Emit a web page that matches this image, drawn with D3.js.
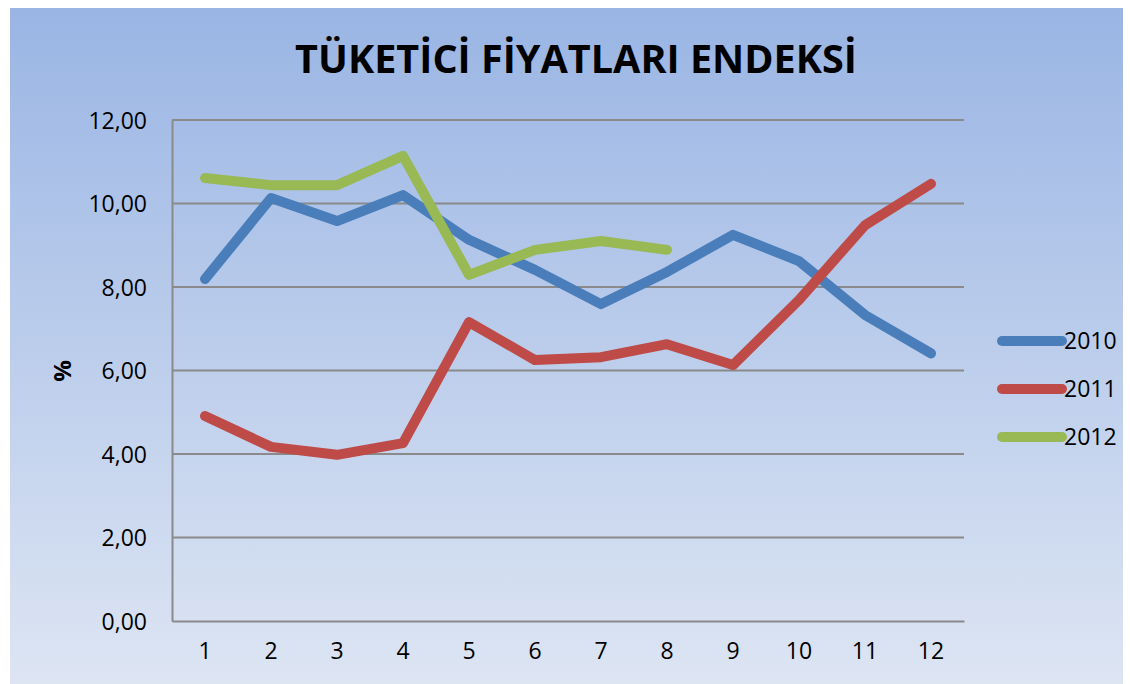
<!DOCTYPE html>
<html>
<head>
<meta charset="utf-8">
<script src="https://cdn.jsdelivr.net/npm/d3@7"></script>
<style>
  body { margin: 0; background: #fff; }
  text { font-family: "Open Sans", "DejaVu Sans", sans-serif; fill: #000; }
</style>
</head>
<body>
<div id="chart"></div>
<script>
// chart data
var months = [1, 2, 3, 4, 5, 6, 7, 8, 9, 10, 11, 12];
var years = ['2010', '2011', '2012'];
var values2010 = [8.19, 10.13, 9.58, 10.20, 9.13, 8.41, 7.59, 8.36, 9.25, 8.62, 7.33, 6.41];
var values2011 = [4.91, 4.17, 3.98, 4.26, 7.16, 6.25, 6.32, 6.63, 6.13, 7.69, 9.48, 10.47];
var values2012 = [10.61, 10.44, 10.44, 11.14, 8.29, 8.89, 9.10, 8.89];
var yTicks = [0, 2, 4, 6, 8, 10, 12];
var colors = ['#4a7ebb', '#be4b48', '#98b954'];
var title = 'TÜKETİCİ FİYATLARI ENDEKSİ';

var series = [values2010, values2011, values2012];

var W = 1130, H = 684;
var plot = {left: 172, top: 120, right: 964, bottom: 621};

var svg = d3.select('#chart').append('svg')
    .attr('width', W)
    .attr('height', H);

// background gradient panel
var grad = svg.append('defs').append('linearGradient')
    .attr('id', 'bg')
    .attr('x1', 0).attr('y1', 0).attr('x2', 0).attr('y2', 1);
grad.append('stop').attr('offset', '0%').attr('stop-color', '#9ab5e4');
grad.append('stop').attr('offset', '100%').attr('stop-color', '#dde5f3');

svg.append('rect')
    .attr('x', 10).attr('y', 8)
    .attr('width', 1113).attr('height', H - 8)
    .style('fill', 'url(#bg)');

// title, scaled to the width it has in the picture
var t = svg.append('text')
    .attr('x', 576).attr('y', 73)
    .attr('text-anchor', 'middle')
    .style('font-weight', 'bold')
    .style('font-size', '42px')
    .text(title);
var tw = t.node().getComputedTextLength();
t.style('font-size', (42 * 562 / tw) + 'px');

// scales
var x = d3.scaleBand()
    .domain(months)
    .range([plot.left, plot.right]);

var y = d3.scaleLinear()
    .domain([0, 12])
    .range([plot.bottom, plot.top]);

// gridlines
svg.append('g').selectAll('line')
    .data(yTicks.slice(1))
    .enter().append('line')
    .attr('x1', plot.left).attr('x2', plot.right)
    .attr('y1', function(d) { return y(d); })
    .attr('y2', function(d) { return y(d); })
    .style('stroke', '#8a8a8a')
    .style('stroke-width', 2);

// axes
var yAxis = d3.axisLeft(y)
    .tickValues(yTicks)
    .tickSize(0)
    .tickPadding(25)
    .tickFormat(function(d) { return d3.format('.2f')(d).replace('.', ','); });

var xAxis = d3.axisBottom(x)
    .tickSize(0)
    .tickPadding(21);

var gy = svg.append('g')
    .attr('transform', 'translate(' + plot.left + ',0)')
    .call(yAxis);

var gx = svg.append('g')
    .attr('transform', 'translate(0,' + plot.bottom + ')')
    .call(xAxis);

[gx, gy].forEach(function(g) {
    g.select('.domain').style('stroke', '#8a8a8a').style('stroke-width', 2);
    g.selectAll('text')
        .style('font-size', '23px')
        .style('font-family', '"Open Sans", sans-serif')
        .style('fill', '#000');
});
gy.selectAll('text').attr('dy', '0.35em');
gx.selectAll('text').attr('dy', '0.72em');

// y axis title
svg.append('text')
    .attr('transform', 'translate(71,371) rotate(-90)')
    .attr('text-anchor', 'middle')
    .style('font-weight', 'bold')
    .style('font-size', '24px')
    .text('%');

// lines
var line = d3.line()
    .x(function(d, i) { return x(months[i]) + x.bandwidth() / 2; })
    .y(function(d) { return y(d); });

svg.append('g').selectAll('path')
    .data(series)
    .enter().append('path')
    .attr('d', line)
    .style('fill', 'none')
    .style('stroke', function(d, i) { return colors[i]; })
    .style('stroke-width', 10)
    .style('stroke-linecap', 'round')
    .style('stroke-linejoin', 'round');

// legend
var legend = svg.append('g').selectAll('g')
    .data(years)
    .enter().append('g')
    .attr('transform', function(d, i) { return 'translate(1002,' + (341 + i * 48) + ')'; });

legend.append('line')
    .attr('x1', 0).attr('x2', 60)
    .style('stroke', function(d, i) { return colors[i]; })
    .style('stroke-width', 10)
    .style('stroke-linecap', 'round');

legend.append('text')
    .attr('x', 62)
    .attr('dy', '0.36em')
    .style('font-size', '23px')
    .text(function(d) { return d; });
</script>
</body>
</html>
